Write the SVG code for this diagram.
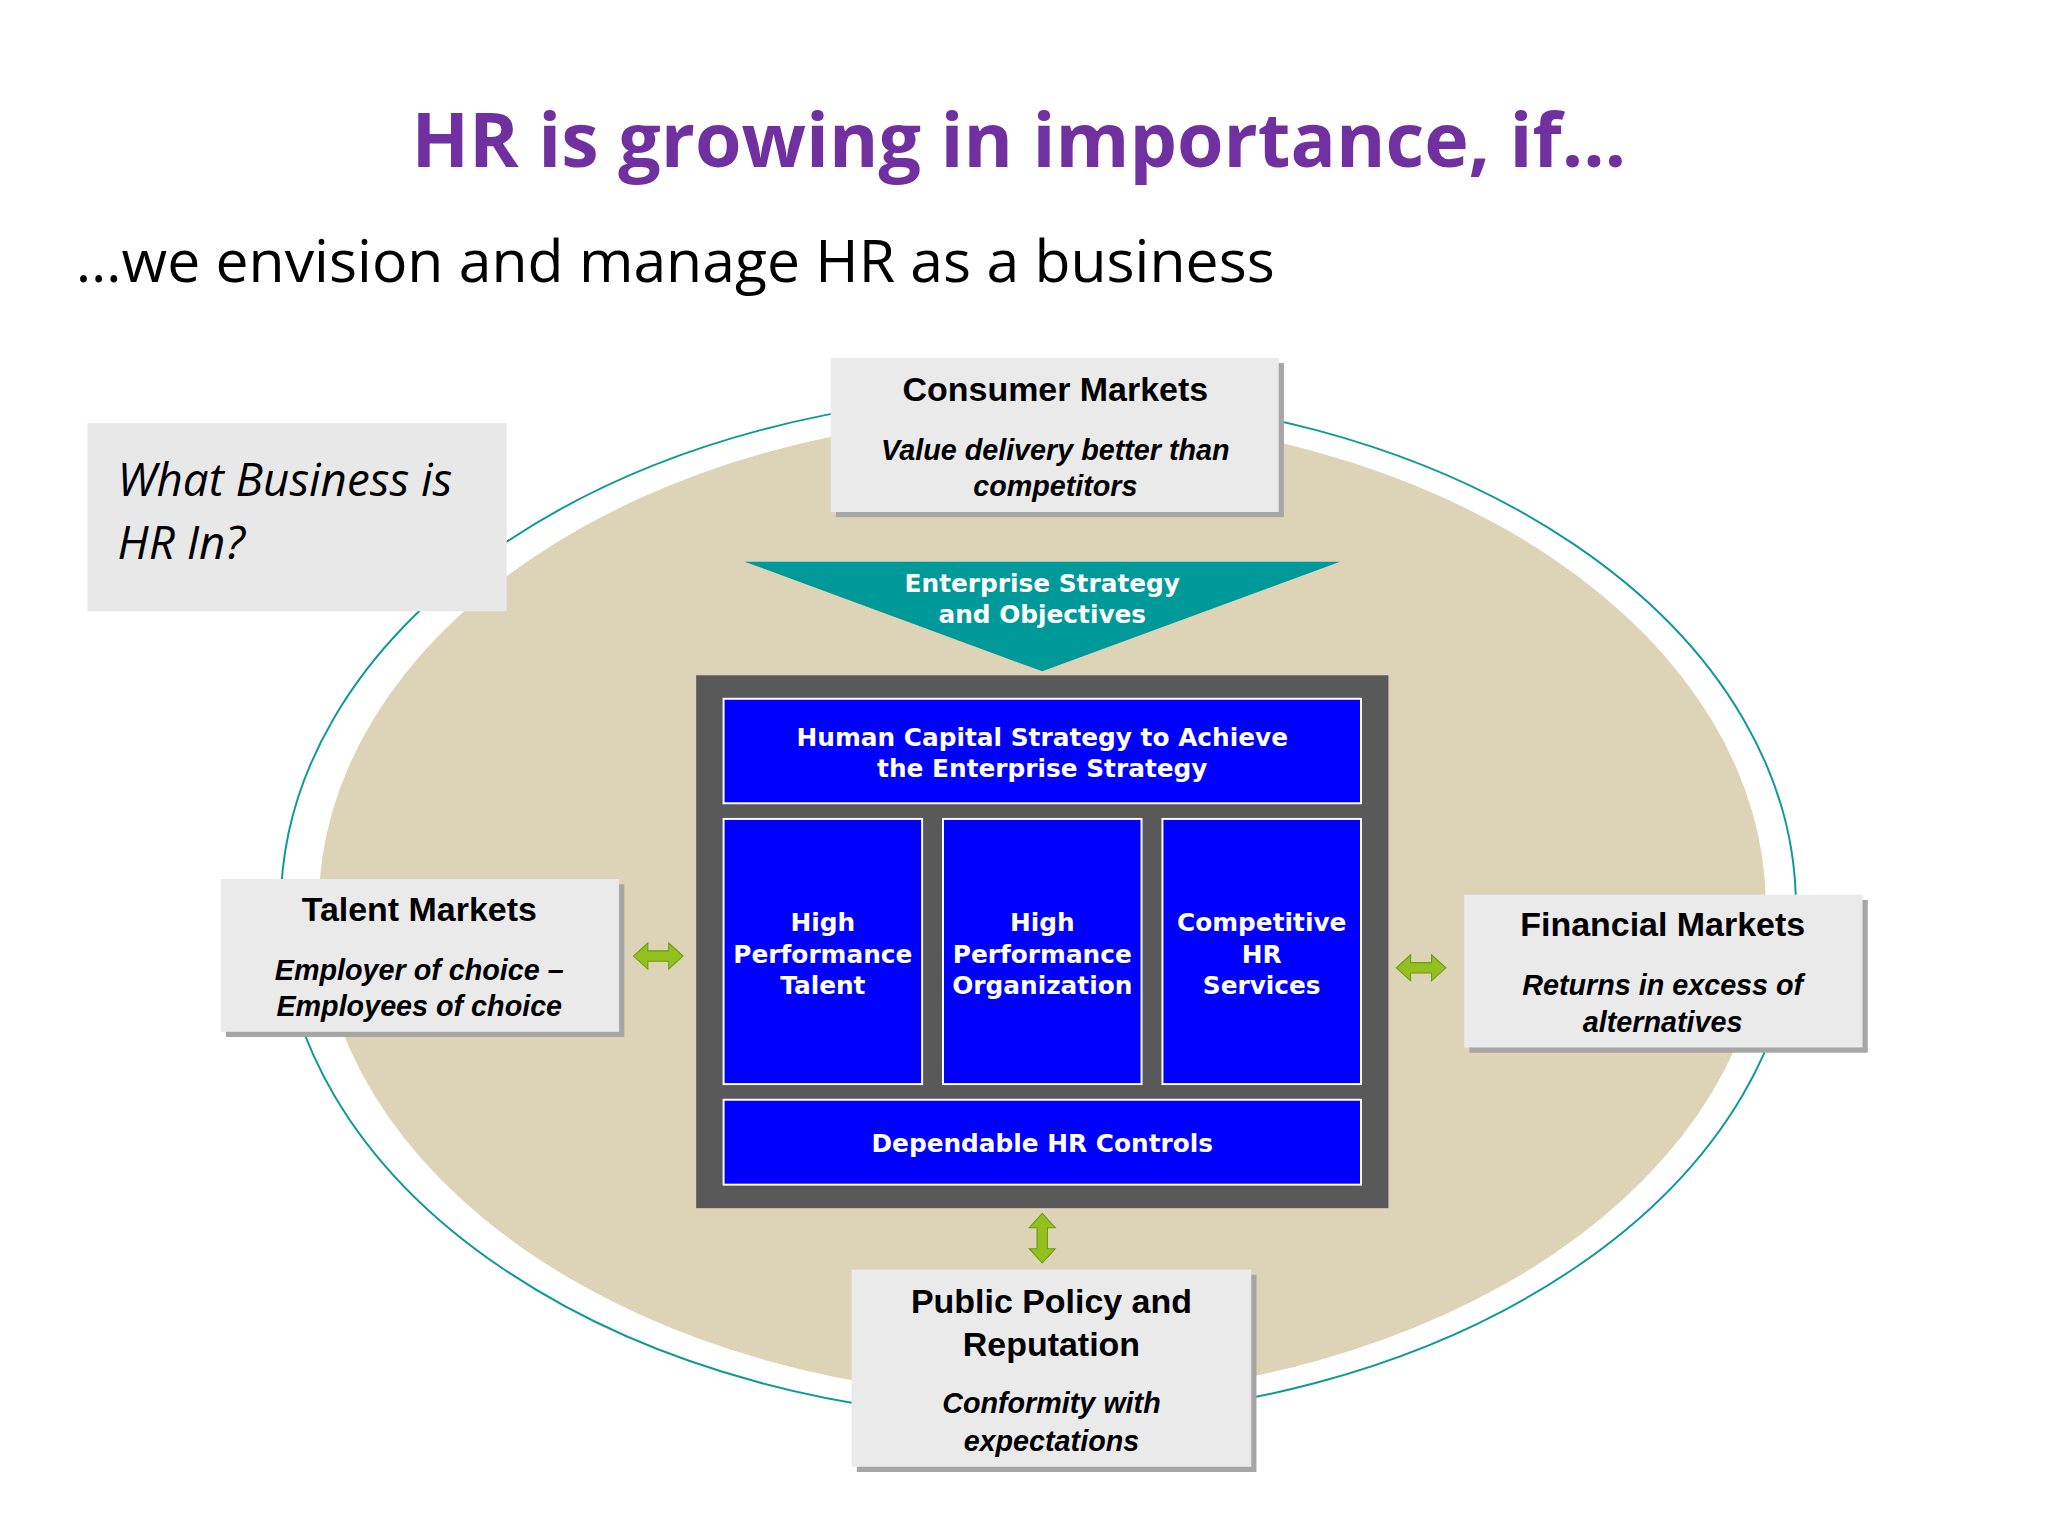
<svg xmlns="http://www.w3.org/2000/svg" width="2048" height="1536" viewBox="0 0 2048 1536">
<style>
.box{fill:#EAEAEA}
.sh{fill:#A6A6A6}
.bl{fill:#0000FF;stroke:#FFFFFF;stroke-width:1.5}
.wt{fill:#fff;font-family:"DejaVu Sans",sans-serif;font-weight:bold;font-size:19px;text-anchor:middle}
.hd{font-family:"Liberation Sans",Arial,sans-serif;font-weight:bold;font-size:26px;text-anchor:middle;fill:#000}
.it{font-family:"Liberation Sans",Arial,sans-serif;font-weight:bold;font-style:italic;font-size:22px;text-anchor:middle;fill:#000}
.ar{fill:#92C01F;stroke:#6E9A10;stroke-width:0.8}
</style>
<rect width="2048" height="1536" fill="#fff"/>
<g transform="scale(1.30612)">
<text x="780" y="128" text-anchor="middle" font-family="Open Sans,sans-serif" font-weight="bold" font-size="58" fill="#7030A0" textLength="930" lengthAdjust="spacingAndGlyphs">HR is growing in importance, if…</text>
<text x="58" y="216" font-family="Open Sans,sans-serif" font-size="45" fill="#000" textLength="918" lengthAdjust="spacingAndGlyphs">…we envision and manage HR as a business</text>
<ellipse cx="795" cy="694" rx="580" ry="392" fill="none" stroke="#0E9A93" stroke-width="1.5"/>
<ellipse cx="798" cy="694" rx="554" ry="376" fill="#DDD3B7"/>
<g id="what"><rect x="67" y="324" width="321" height="144" fill="#E8E8E8"/>
<text font-family="Open Sans,sans-serif" font-style="italic" font-size="35" fill="#000"><tspan x="90" y="380">What Business is</tspan><tspan x="90" y="428">HR In?</tspan></text></g>
<g id="consumer"><rect class="sh" x="640" y="278" width="343" height="118"/><rect class="box" x="636" y="274" width="343" height="118"/>
<text class="hd" x="808" y="307">Consumer Markets</text><text class="it" x="808" y="352">Value delivery better than</text><text class="it" x="808" y="380">competitors</text></g>
<g id="enterprise"><polygon points="570,430 1026,430 798,514" fill="#009999"/>
<text class="wt" x="798" y="453">Enterprise Strategy</text><text class="wt" x="798" y="477">and Objectives</text></g>
<g id="frame"><rect x="533" y="517" width="530" height="408" fill="#595959"/></g>
<g id="hcs"><rect class="bl" x="554" y="535" width="488" height="80"/><text class="wt" x="798" y="571">Human Capital Strategy to Achieve</text><text class="wt" x="798" y="595">the Enterprise Strategy</text></g>
<g id="hpt"><rect class="bl" x="554" y="627" width="152" height="203"/><text class="wt" x="630" y="713">High</text><text class="wt" x="630" y="737">Performance</text><text class="wt" x="630" y="761">Talent</text></g>
<g id="hpo"><rect class="bl" x="722" y="627" width="152" height="203"/><text class="wt" x="798" y="713">High</text><text class="wt" x="798" y="737">Performance</text><text class="wt" x="798" y="761">Organization</text></g>
<g id="chr"><rect class="bl" x="890" y="627" width="152" height="203"/><text class="wt" x="966" y="713">Competitive</text><text class="wt" x="966" y="737">HR</text><text class="wt" x="966" y="761">Services</text></g>
<g id="controls"><rect class="bl" x="554" y="842" width="488" height="65"/><text class="wt" x="798" y="882">Dependable HR Controls</text></g>
<g id="talent"><rect class="sh" x="173" y="677" width="305" height="117"/><rect class="box" x="169" y="673" width="305" height="117"/>
<text class="hd" x="321" y="705">Talent Markets</text><text class="it" x="321" y="750">Employer of choice –</text><text class="it" x="321" y="778">Employees of choice</text></g>
<g id="financial"><rect class="sh" x="1125" y="689" width="305" height="117"/><rect class="box" x="1121" y="685" width="305" height="117"/>
<text class="hd" x="1273" y="717">Financial Markets</text><text class="it" x="1273" y="762">Returns in excess of</text><text class="it" x="1273" y="790">alternatives</text></g>
<g id="public"><rect class="sh" x="656" y="976" width="306" height="151"/><rect class="box" x="652" y="972" width="306" height="151"/>
<text class="hd" x="805" y="1005">Public Policy and</text><text class="hd" x="805" y="1038">Reputation</text><text class="it" x="805" y="1082">Conformity with</text><text class="it" x="805" y="1111">expectations</text></g>
<g id="connectors">
<polygon class="ar" points="485,732 496,722 496,728 512,728 512,722 523,732 512,742 512,736 496,736 496,742"/>
<polygon class="ar" points="1069,741 1080,731 1080,737 1096,737 1096,731 1107,741 1096,751 1096,745 1080,745 1080,751"/>
<polygon class="ar" points="798,929 808,940 802,940 802,956 808,956 798,967 788,956 794,956 794,940 788,940"/>
</g>
</g>
</svg>
